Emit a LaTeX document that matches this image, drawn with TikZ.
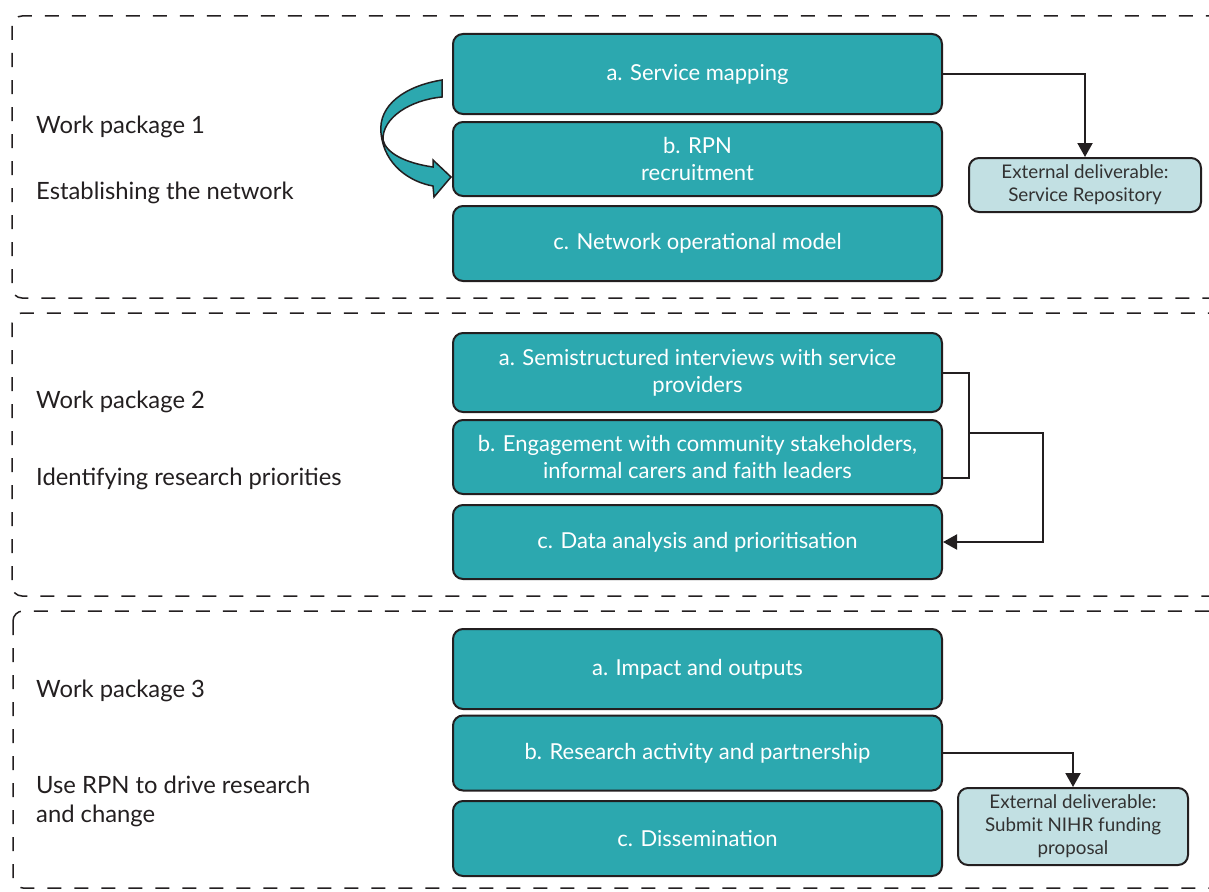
\documentclass[tikz,border=0pt]{standalone}
\usepackage{fontspec}
\setmainfont{Lato}
\usetikzlibrary{arrows.meta,calc}
\definecolor{teal}{RGB}{44,168,175}
\definecolor{lightteal}{RGB}{194,224,227}
\definecolor{ink}{RGB}{35,31,32}
\definecolor{deltext}{RGB}{50,50,50}
\tikzset{
  wpbox/.style={draw=ink, line width=1.5pt, dash pattern=on 14pt off 13pt, rounded corners=10pt},
  taskbox/.style={draw=ink, line width=2pt, fill=teal, rounded corners=10pt, text=white,
    minimum width=489pt, align=center, font=\fontsize{22}{27}\selectfont, inner sep=0pt},
  delbox/.style={draw=ink, line width=2pt, fill=lightteal, rounded corners=10pt, text=deltext,
    align=center, font=\fontsize{18.8}{23}\selectfont, inner sep=0pt},
  wplabel/.style={anchor=west, text=ink, font=\fontsize{23.8}{29}\selectfont, align=left, inner sep=0pt},
  conn/.style={draw=ink, line width=2pt},
  connarrow/.style={conn, -{Triangle[length=14pt,width=15pt]}},
}
\begin{document}
\begin{tikzpicture}[x=1pt,y=-1pt]
\useasboundingbox (0,0) rectangle (1209,891);
\clip (0,0) rectangle (1209,891);
% work package frames
\draw[wpbox] (12,16) rectangle (1250,298);
\draw[wpbox] (12,313) rectangle (1250,596);
\draw[wpbox] (13,611) rectangle (1250,888);
% labels
\node[wplabel] (wp1) at (36,127) {Work package 1};
\node[wplabel] (wp1t) at (36,193) {Establishing the network};
\node[wplabel] (wp2) at (36,402) {Work package 2};
\node[wplabel] (wp2t) at (36,479) {Identifying research priorities};
\node[wplabel] (wp3) at (36,691) {Work package 3};
\node[wplabel] (wp3t) at (36,801) {Use RPN to drive research\\and change};
% WP1 tasks
\node[taskbox, minimum height=80pt] (a1) at (697.5,74) {a. Service mapping};
\node[taskbox, minimum height=74pt] (b1) at (697.5,159) {b. RPN\\recruitment};
\node[taskbox, minimum height=75pt] (c1) at (697.5,243.5) {c. Network operational model};
% WP2 tasks
\node[taskbox, minimum height=79pt] (a2) at (697.5,372.5) {a. Semistructured interviews with service\\providers};
\node[taskbox, minimum height=74pt] (b2) at (697.5,457) {b. Engagement with community stakeholders,\\informal carers and faith leaders};
\node[taskbox, minimum height=74pt] (c2) at (697.5,542) {c. Data analysis and prioritisation};
% WP3 tasks
\node[taskbox, minimum height=80pt] (a3) at (697.5,669) {a. Impact and outputs};
\node[taskbox, minimum height=75pt] (b3) at (697.5,753) {b. Research activity and partnership};
\node[taskbox, minimum height=75pt] (c3) at (697.5,838.5) {c. Dissemination};
% deliverables
\node[delbox, minimum width=232pt, minimum height=54pt] (d1) at (1085,185) {External deliverable:\\Service Repository};
\node[delbox, minimum width=230pt, minimum height=77pt] (d2) at (1073,826.5) {External deliverable:\\Submit NIHR funding\\proposal};
% connectors
\draw[connarrow] (a1.east) -| (d1.north);
\draw[connarrow] (b3.east) -| (d2.north);
\coordinate (b2low) at ($(b2.east)+(0,21)$);
\coordinate (j2) at (969,433);
\coordinate (k2) at (1043,433);
\draw[conn] (a2.east) -| (j2) |- (b2low);
\draw[connarrow] (j2) -- (k2) |- (c2.east);
% curved block arrow
\draw[ink, line width=1.5pt, fill=teal, line join=miter]
  (442,80) .. controls (405,86) and (378,105) .. (381,133)
  .. controls (384,165) and (410,182) .. (433,186)
  -- (434,197) -- (451,177) -- (433,160) -- (433,167)
  .. controls (405,163) and (386,153) .. (383,140)
  .. controls (382,118) and (410,100) .. (442,97) -- cycle;
\end{tikzpicture}
\end{document}
